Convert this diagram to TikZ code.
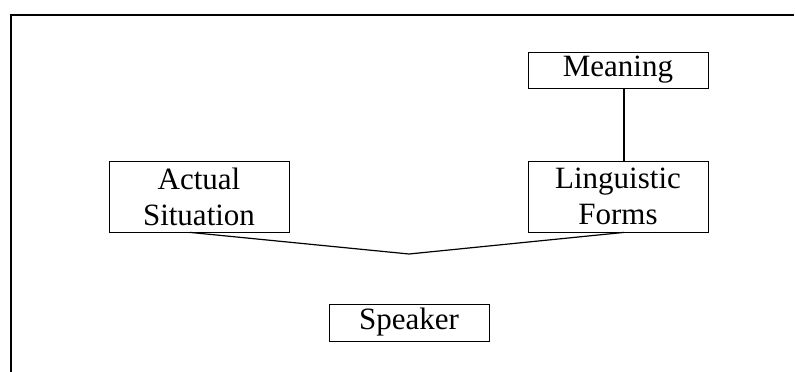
\documentclass[tikz,border=0pt]{standalone}
\usepackage{fontspec}
\setmainfont{Liberation Serif}
\begin{document}
\begin{tikzpicture}[x=1pt,y=-1pt,
  box/.style={draw,line width=0.8pt,inner sep=0pt,align=center,
    font=\fontsize{31}{36}\selectfont},
  link/.style={line width=1.2pt}]
\useasboundingbox (0,0) rectangle (795,372);
\draw[line width=1.2pt] (11,372) -- (11,15) -- (794,15);
\node[box,minimum width=180pt,minimum height=36pt] (meaning) at (618,70) {Meaning};
\node[box,minimum width=180pt,minimum height=71pt] (ling) at (618,196.5) {Linguistic\\Forms};
\node[box,minimum width=180pt,minimum height=71pt] (actual) at (199,196.5) {Actual\\Situation};
\node[box,minimum width=160pt,minimum height=37pt] (speaker) at (409,322.5) {Speaker};
\coordinate (v) at (409,254);
\draw[link] ([xshift=6pt]meaning.south) -- ([xshift=6pt]ling.north);
\draw[link] ([xshift=-9pt]actual.south) -- (v) -- ([xshift=6pt]ling.south);
\end{tikzpicture}
\end{document}
